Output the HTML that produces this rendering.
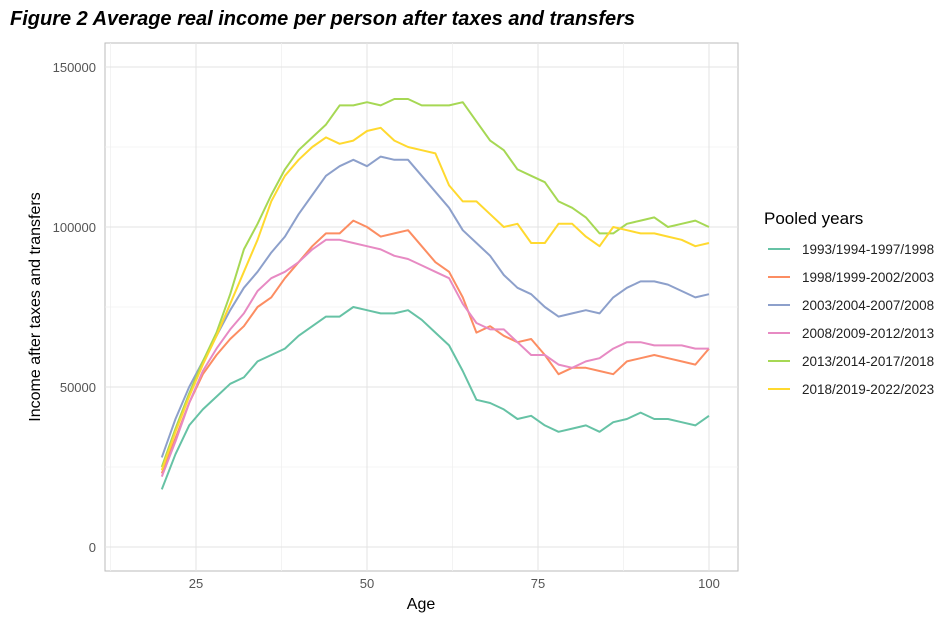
<!DOCTYPE html>
<html><head><meta charset="utf-8"><style>
body{margin:0;background:#fff;width:951px;height:622px;overflow:hidden;font-family:"Liberation Sans",sans-serif}
</style></head><body>
<svg width="951" height="622">
<text x="10" y="25" font-size="20" font-weight="bold" font-style="italic">Figure 2 Average real income per person after taxes and transfers</text>
<rect x="105" y="43" width="633" height="528" fill="none" stroke="#bbb"/>
<g id="grid"></g><g id="axes"></g><g id="lines"></g>
<text x="421" y="609" font-size="16" text-anchor="middle">Age</text>
<text transform="translate(40,307) rotate(-90)" font-size="16" text-anchor="middle">Income after taxes and transfers</text>
<g id="legend">
<text x="764" y="224" font-size="17">Pooled years</text>
</g>
</svg>
<script>
const ages=[20,22,24,26,28,30,32,34,36,38,40,42,44,46,48,50,52,54,56,58,60,62,64,66,68,70,72,74,76,78,80,82,84,86,88,90,92,94,96,98,100];
const seriesNames=["1993/1994-1997/1998","1998/1999-2002/2003","2003/2004-2007/2008","2008/2009-2012/2013","2013/2014-2017/2018","2018/2019-2022/2023"];
const s1993=[18,29,38,43,47,51,53,58,60,62,66,69,72,72,75,74,73,73,74,71,67,63,55,46,45,43,40,41,38,36,37,38,36,39,40,42,40,40,39,38,41];
const s1998=[23,34,45,54,60,65,69,75,78,84,89,94,98,98,102,100,97,98,99,94,89,86,78,67,69,66,64,65,60,54,56,56,55,54,58,59,60,59,58,57,62];
const s2003=[28,40,50,58,66,74,81,86,92,97,104,110,116,119,121,119,122,121,121,116,111,106,99,95,91,85,81,79,75,72,73,74,73,78,81,83,83,82,80,78,79];
const s2008=[22,33,45,55,62,68,73,80,84,86,89,93,96,96,95,94,93,91,90,88,86,84,76,70,68,68,64,60,60,57,56,58,59,62,64,64,63,63,63,62,62];
const s2013=[25,37,48,58,67,79,93,101,110,118,124,128,132,138,138,139,138,140,140,138,138,138,139,133,127,124,118,116,114,108,106,103,98,98,101,102,103,100,101,102,100];
const s2018=[24,36,47,57,66,76,86,96,108,116,121,125,128,126,127,130,131,127,125,124,123,113,108,108,104,100,101,95,95,101,101,97,94,100,99,98,98,97,96,94,95];
const allSeries=[s1993,s1998,s2003,s2008,s2013,s2018];
const xTicks=[25,50,75,100];
const yTicks=[0,50000,100000,150000];
const colors=["#66c2a5","#fc8d62","#8da0cb","#e78ac3","#a6d854","#ffd92f"];
const X=a=>196+(a-25)*6.84;
const Y=v=>547-v*160/50000;
const NS="http://www.w3.org/2000/svg";
function mk(t,at,p){const e=document.createElementNS(NS,t);for(const k in at)e.setAttribute(k,at[k]);p.appendChild(e);return e;}
const grid=document.getElementById('grid'),axes=document.getElementById('axes'),lines=document.getElementById('lines'),legend=document.getElementById('legend');
[12.5,37.5,62.5,87.5].forEach(a=>{const l=mk('line',{x1:X(a),x2:X(a),y1:43,y2:571,stroke:'#f0f0f0','stroke-width':0.8},grid);

});
[25000,75000,125000].forEach(v=>{const l=mk('line',{x1:105,x2:738,y1:Y(v),y2:Y(v),stroke:'#f0f0f0','stroke-width':0.8},grid);

});
xTicks.forEach(a=>{const l=mk('line',{x1:X(a),x2:X(a),y1:43,y2:571,stroke:'#e3e3e3','stroke-width':1},grid);


const t=mk('text',{x:X(a),y:588,'font-size':13,fill:'#555','text-anchor':'middle'},axes);t.textContent=a;

});
yTicks.forEach(v=>{const l=mk('line',{x1:105,x2:738,y1:Y(v),y2:Y(v),stroke:'#e3e3e3','stroke-width':1},grid);


const t=mk('text',{x:96,y:Y(v)+5,'font-size':13,fill:'#555','text-anchor':'end'},axes);t.textContent=v;

});
allSeries.forEach((s,i)=>{const p=mk('polyline',{points:s.map((v,j)=>X(ages[j])+','+Y(v*1000)).join(' '),fill:'none',stroke:colors[i],'stroke-width':2,'stroke-linejoin':'round'},lines);


const y=249+i*28;
const l=mk('line',{x1:768,x2:790,y1:y,y2:y,stroke:colors[i],'stroke-width':2},legend);


const t=mk('text',{x:802,y:y+5,'font-size':13.5,fill:'#222'},legend);t.textContent=seriesNames[i];

});
</script>
</body></html>
